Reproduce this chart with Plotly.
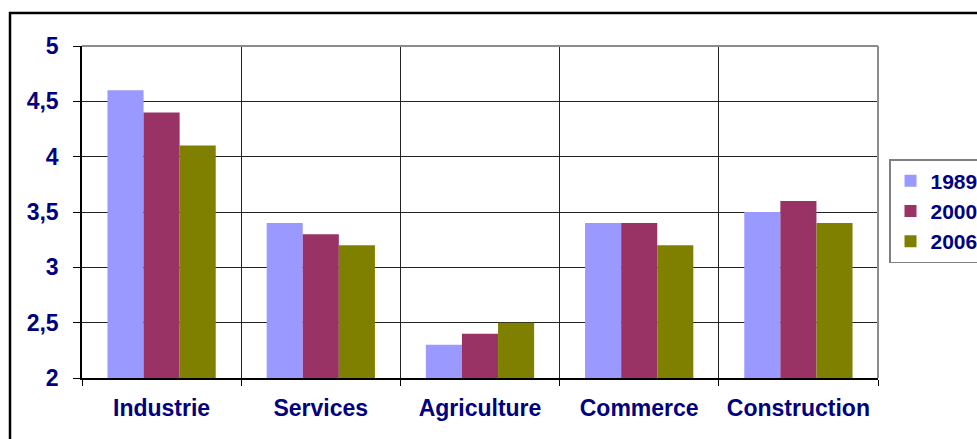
import plotly.graph_objects as go

# Sectors and yearly values
categories = ["Industrie", "Services", "Agriculture", "Commerce", "Construction"]
years = ["1989", "2000", "2006"]
values_1989 = [4.6, 3.4, 2.3, 3.4, 3.5]
values_2000 = [4.4, 3.3, 2.4, 3.4, 3.6]
values_2006 = [4.1, 3.2, 2.5, 3.2, 3.4]
y_ticks = [2, 2.5, 3, 3.5, 4, 4.5, 5]

series = [values_1989, values_2000, values_2006]
colors = ["#9999FF", "#993366", "#808000"]

navy = "#000080"
font_family = "Liberation Sans, Arial, sans-serif"

fig = go.Figure()
for name, vals, col in zip(years, series, colors):
    fig.add_trace(go.Bar(
        x=categories, y=vals, name=name,
        marker=dict(color=col, line=dict(width=0)),
    ))

W, H = 977, 439
L, R, T, B = 82, 99, 46, 61
pw, ph = W - L - R, H - T - B

def px_x(p):
    return (p - L) / pw

def px_y(p):
    return (H - B - p) / ph

fig.update_layout(
    width=W, height=H,
    margin=dict(l=L, r=R, t=T, b=B, pad=0, autoexpand=False),
    paper_bgcolor="white", plot_bgcolor="white",
    barmode="group", bargap=0.32, bargroupgap=0,
    separators=", ",
    font=dict(family=font_family, size=22, color=navy),
    showlegend=True,
    legend=dict(
        x=px_x(889), y=px_y(159), xanchor="left", yanchor="top",
        bordercolor="#808080", borderwidth=1.5, bgcolor="white",
        font=dict(family=font_family, size=21, color=navy, weight="bold"),
        itemwidth=30, tracegroupgap=0,
    ),
    xaxis=dict(
        type="category", tickson="boundaries",
        showgrid=True, gridcolor="#222222", gridwidth=1,
        showline=True, linecolor="black", linewidth=1.5,
        ticks="outside", ticklen=6, tickcolor="black",
        tickfont=dict(family=font_family, size=23, color=navy, weight="bold"),
        ticklabelstandoff=9,
    ),
    yaxis=dict(
        range=[2, 5], tickvals=y_ticks,
        showgrid=True, gridcolor="#222222", gridwidth=1,
        showline=True, linecolor="black", linewidth=1.5,
        ticks="outside", ticklen=7, tickcolor="black",
        tickfont=dict(family=font_family, size=23, color=navy, weight="bold"),
        ticklabelstandoff=10, zeroline=False,
    ),
    shapes=[
        # plot-area frame, grey on top and right
        dict(type="line", xref="paper", yref="paper", x0=0, x1=1, y0=1, y1=1,
             line=dict(color="#8c8c8c", width=2), layer="above"),
        dict(type="line", xref="paper", yref="paper", x0=1, x1=1, y0=0, y1=1,
             line=dict(color="#8c8c8c", width=2), layer="above"),
        # outer chart border
        dict(type="rect", xref="paper", yref="paper",
             x0=px_x(10), x1=px_x(1010), y0=px_y(470), y1=px_y(13),
             line=dict(color="black", width=2.5), layer="above"),
    ],
)

fig.write_html("out.html")
